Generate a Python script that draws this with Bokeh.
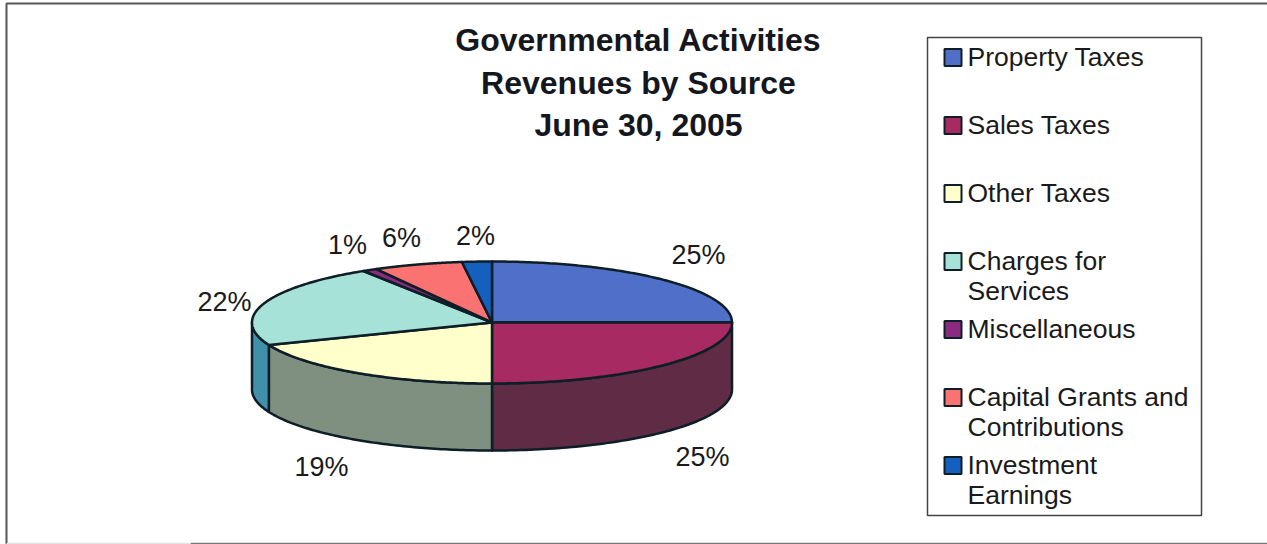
import numpy as np
from bokeh.plotting import figure
from bokeh.embed import file_html
from bokeh.resources import INLINE
from bokeh.core.properties import value

# Revenue shares, clockwise from twelve o'clock
categories = ["Property Taxes", "Sales Taxes", "Other Taxes", "Charges for Services",
              "Miscellaneous", "Capital Grants and Contributions", "Investment Earnings"]
shares = [25, 25, 19, 22, 1, 6, 2]
top_colors = ["#4F6FC9", "#A82A62", "#FFFFCC", "#A6E2D8", "#8A2A80", "#FA7272", "#1560BE"]
side_colors = ["#2A3A68", "#5F2B45", "#7F9080", "#3F90A8", "#451540", "#7D3939", "#0B3060"]

legend_lines = [["Property Taxes"], ["Sales Taxes"], ["Other Taxes"], ["Charges for", "Services"],
                ["Miscellaneous"], ["Capital Grants and", "Contributions"], ["Investment", "Earnings"]]
legend_swatch_y = [57, 125, 193, 261, 329, 397, 465]
title_lines = ["Governmental Activities", "Revenues by Source", "June 30, 2005"]

# Tilted-disc geometry in page pixels
CX, CY, RX, RY, DEPTH = 491.5, 322, 240, 61, 67
OUTLINE = "#0E1E26"
ARIAL = value("Liberation Sans")

p = figure(width=1267, height=544, x_range=(0, 1267), y_range=(544, 0),
           output_backend="svg", toolbar_location=None, min_border=0,
           background_fill_color="white", border_fill_color="white", outline_line_color=None)
p.axis.visible = False
p.grid.visible = False


def rim(a):
    """Point on the upper ellipse for a clockwise angle from twelve o'clock."""
    return CX + RX * np.sin(a), CY - RY * np.cos(a)


edges = np.cumsum([0] + shares) / sum(shares) * 2 * np.pi

# Outer page frame
p.line([6, 6, 1267], [544, 3, 3], line_color="#555555", line_width=2)
p.line([190, 1267], [543, 543], line_color="#777777", line_width=1.5)
p.line([6, 190], [543, 543], line_color="#E4E4E4", line_width=1.5)

# Visible wall of each slice (front half only)
for start, stop, col in zip(edges[:-1], edges[1:], side_colors):
    lo, hi = max(start, np.pi / 2), min(stop, 3 * np.pi / 2)
    if hi <= lo:
        continue
    t = np.linspace(lo, hi, 80)
    x, y = rim(t)
    p.patch(np.r_[x, x[::-1]], np.r_[y, y[::-1] + DEPTH], fill_color=col,
            line_color=OUTLINE, line_width=2.5, line_join="round")

# Top face of each slice
for start, stop, col in zip(edges[:-1], edges[1:], top_colors):
    t = np.linspace(start, stop, 120)
    x, y = rim(t)
    p.patch(np.r_[CX, x], np.r_[CY, y], fill_color=col,
            line_color=OUTLINE, line_width=2.5, line_join="round")

# Percentage labels
label_x = [698, 702, 321, 224, 347, 401, 475]
label_y = [254, 456, 466, 301, 244, 237, 235]
p.text(label_x, label_y, text=[f"{s}%" for s in shares], text_font=ARIAL, text_font_size="27px",
       text_color="#1A1A1A", text_align="center", text_baseline="middle")

# Title
p.text([638] * 3, [39.5, 82, 124], text=title_lines, text_font=ARIAL, text_font_size="32px",
       text_font_style="bold", text_color="#14181E", text_align="center", text_baseline="middle")

# Legend box, swatches and entries
p.quad(left=[927], right=[1201], top=[37], bottom=[515], fill_color="white",
       line_color="#444444", line_width=1.5)
for sy, lines, col in zip(legend_swatch_y, legend_lines, top_colors):
    p.quad(left=[944], right=[961], top=[sy - 8.5], bottom=[sy + 8.5], fill_color=col,
           line_color=OUTLINE, line_width=2)
    p.text([967] * len(lines), [sy - 0.5 + 30 * i for i in range(len(lines))], text=lines,
           text_font=ARIAL, text_font_size="26.5px", text_color="#1A1A1A",
           text_align="left", text_baseline="middle")

open("out.html", "w").write(file_html(p, INLINE))
